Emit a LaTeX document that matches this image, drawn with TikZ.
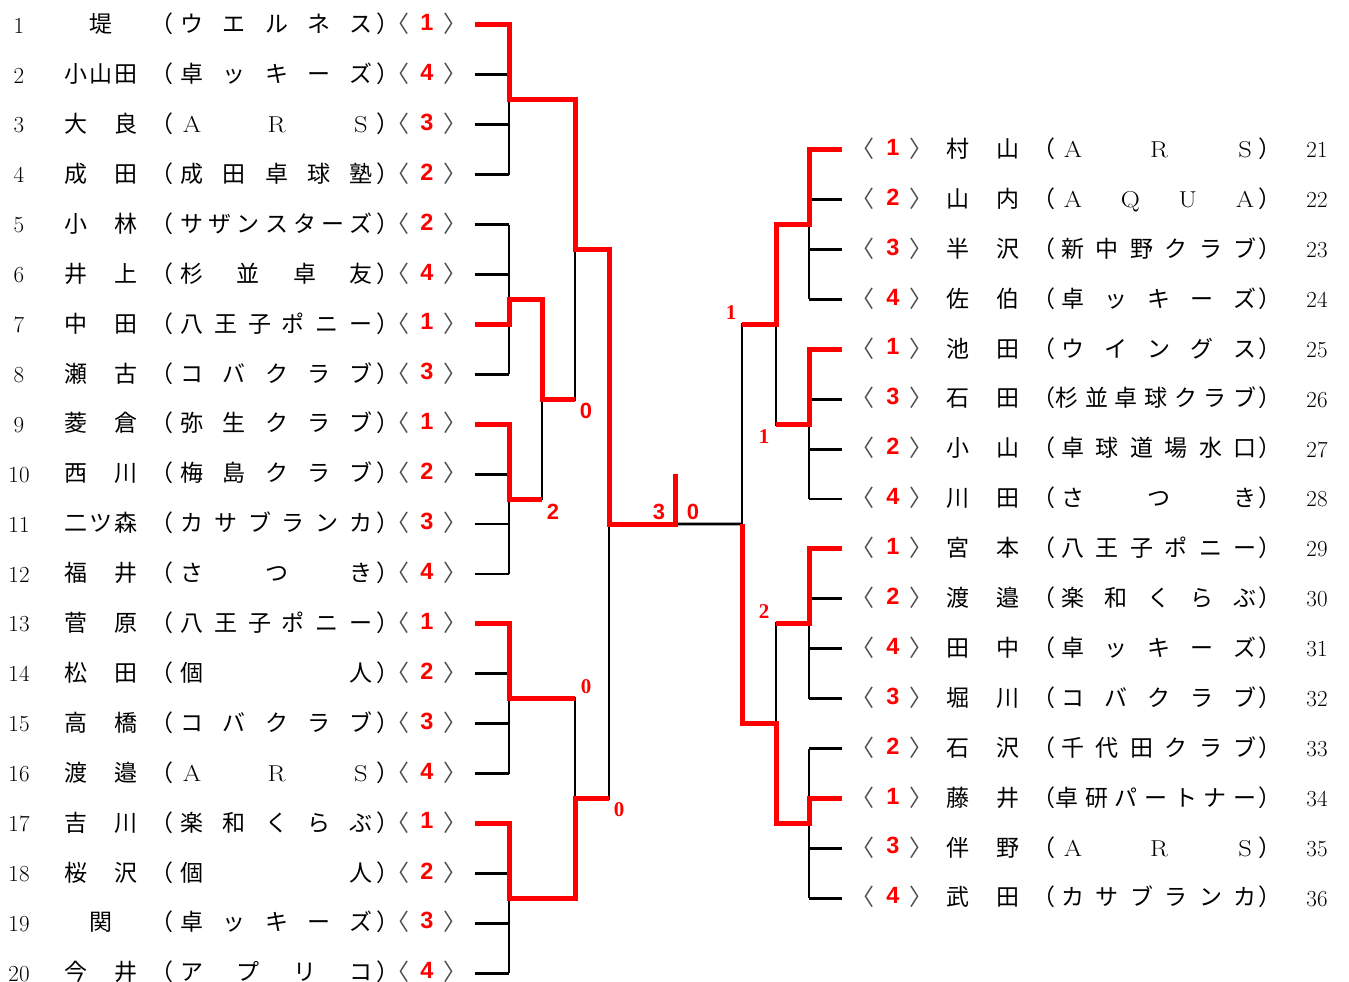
\documentclass[tikz,border=0pt]{standalone}
\usepackage{fontspec}
\usepackage{graphicx}
\usetikzlibrary{calc}
\newfontfamily\jp{Noto Sans CJK JP}
\newfontfamily\rsans{Liberation Sans}
\newfontfamily\rserif{Liberation Serif}
\newfontfamily\lmr{Latin Modern Roman}
\definecolor{bred}{RGB}{255,0,0}
\newcommand\lt[1]{{\lmr\fontsize{23}{23}\selectfont\scalebox{1.15}[1]{#1}}}
\newcommand\distr[5]{%
  \foreach \c [count=\n] in {#4} {\xdef\dcount{\n}}%
  \foreach \c [count=\i from 0] in {#4} {%
    \pgfmathsetmacro\xx{#2+(#3-#2)*\i/max(\dcount-1,1)}%
    \node[jp] (#5-\i) at (\xx,#1) {\c};
  }%
}
\newcommand\Lrow[6]{%
  \pgfmathsetmacro\yy{25+(#1-1)*49.9}%
  \node[num] (n#1) at (19,\yy+0.5) {#1};
  \distr{\yy-1}{#3}{#4}{#2}{nm#1}
  \node[jp] (lp#1) at (167-5.5,\yy-1) {（};
  \distr{\yy-1}{192}{361}{#5}{tm#1}
  \node[jp] (rp#1) at (383+4.5,\yy-1) {）};
  \node[brk] (la#1) at (402-4,\yy-1) {〈};
  \node[seed] (s#1) at (427,\yy-2.5) {#6};
  \node[brk] (ra#1) at (451+4,\yy-1) {〉};
  \coordinate (L#1) at (475,\yy);
  \coordinate (La#1) at (509,\yy);
}
\newcommand\Rrow[5]{%
  \pgfmathsetmacro\yy{25+(#1-18.5)*49.9}%
  \node[brk] (la#1) at (867-4,\yy-1) {〈};
  \node[seed] (s#1) at (893,\yy-2.5) {#2};
  \node[brk] (ra#1) at (917+4,\yy-1) {〉};
  \distr{\yy-1}{958}{1008}{#3}{nm#1}
  \node[jp] (lp#1) at (1049-5.5,\yy-1) {（};
  \distr{\yy-1}{#5}{1245}{#4}{tm#1}
  \node[jp] (rp#1) at (1265+4.5,\yy-1) {）};
  \node[num] (n#1) at (1317,\yy+0.5) {#1};
  \coordinate (R#1) at (842,\yy);
  \coordinate (Ra#1) at (809,\yy);
}
\begin{document}
\begin{tikzpicture}[x=1pt,y=-1pt,
  jp/.style={font=\jp\fontsize{23}{23}\selectfont, inner sep=0pt, text height=20.2pt, text depth=2.8pt, anchor=center},
  brk/.style={jp, text=black!70},
  num/.style={font=\lmr\fontsize{23}{23}\selectfont, inner sep=0pt, anchor=center},
  seed/.style={font=\rsans\bfseries\fontsize{23.5}{23.5}\selectfont, text=bred, inner sep=0pt, anchor=center},
  score/.style={font=\rsans\bfseries\fontsize{22}{22}\selectfont, text=bred, inner sep=0pt, anchor=center},
  scoreser/.style={font=\rserif\bfseries\fontsize{21}{21}\selectfont, text=bred, inner sep=0pt, anchor=center},
  bl/.style={line width=2.8pt, black},
  rd/.style={line width=5pt, bred, line join=miter},
]
\fill[white] (0,0) rectangle (1349,982);
\useasboundingbox (0,0) rectangle (1349,982);

\Lrow{1}{堤}{101}{101}{ウ,エ,ル,ネ,ス}{1}
\Lrow{2}{小,山,田}{76}{126}{卓,ッ,キ,ー,ズ}{4}
\Lrow{3}{大,良}{76}{126}{\lt{A},\lt{R},\lt{S}}{3}
\Lrow{4}{成,田}{76}{126}{成,田,卓,球,塾}{2}
\Lrow{5}{小,林}{76}{126}{サ,ザ,ン,ス,タ,ー,ズ}{2}
\Lrow{6}{井,上}{76}{126}{杉,並,卓,友}{4}
\Lrow{7}{中,田}{76}{126}{八,王,子,ポ,ニ,ー}{1}
\Lrow{8}{瀬,古}{76}{126}{コ,バ,ク,ラ,ブ}{3}
\Lrow{9}{菱,倉}{76}{126}{弥,生,ク,ラ,ブ}{1}
\Lrow{10}{西,川}{76}{126}{梅,島,ク,ラ,ブ}{2}
\Lrow{11}{二,ツ,森}{76}{126}{カ,サ,ブ,ラ,ン,カ}{3}
\Lrow{12}{福,井}{76}{126}{さ,つ,き}{4}
\Lrow{13}{菅,原}{76}{126}{八,王,子,ポ,ニ,ー}{1}
\Lrow{14}{松,田}{76}{126}{個,人}{2}
\Lrow{15}{高,橋}{76}{126}{コ,バ,ク,ラ,ブ}{3}
\Lrow{16}{渡,邉}{76}{126}{\lt{A},\lt{R},\lt{S}}{4}
\Lrow{17}{吉,川}{76}{126}{楽,和,く,ら,ぶ}{1}
\Lrow{18}{桜,沢}{76}{126}{個,人}{2}
\Lrow{19}{関}{101}{101}{卓,ッ,キ,ー,ズ}{3}
\Lrow{20}{今,井}{76}{126}{ア,プ,リ,コ}{4}

\Rrow{21}{1}{村,山}{\lt{A},\lt{R},\lt{S}}{1073}
\Rrow{22}{2}{山,内}{\lt{A},\lt{Q},\lt{U},\lt{A}}{1073}
\Rrow{23}{3}{半,沢}{新,中,野,ク,ラ,ブ}{1073}
\Rrow{24}{4}{佐,伯}{卓,ッ,キ,ー,ズ}{1073}
\Rrow{25}{1}{池,田}{ウ,イ,ン,グ,ス}{1073}
\Rrow{26}{3}{石,田}{杉,並,卓,球,ク,ラ,ブ}{1067}
\Rrow{27}{2}{小,山}{卓,球,道,場,水,口}{1073}
\Rrow{28}{4}{川,田}{さ,つ,き}{1073}
\Rrow{29}{1}{宮,本}{八,王,子,ポ,ニ,ー}{1073}
\Rrow{30}{2}{渡,邉}{楽,和,く,ら,ぶ}{1073}
\Rrow{31}{4}{田,中}{卓,ッ,キ,ー,ズ}{1073}
\Rrow{32}{3}{堀,川}{コ,バ,ク,ラ,ブ}{1073}
\Rrow{33}{2}{石,沢}{千,代,田,ク,ラ,ブ}{1073}
\Rrow{34}{1}{藤,井}{卓,研,パ,ー,ト,ナ,ー}{1067}
\Rrow{35}{3}{伴,野}{\lt{A},\lt{R},\lt{S}}{1073}
\Rrow{36}{4}{武,田}{カ,サ,ブ,ラ,ン,カ}{1073}

% junction coordinates (left)
\coordinate (GA) at ($(La1)!0.5!(La4)$);
\coordinate (GB) at ($(La5)!0.5!(La8)$);
\coordinate (GC) at ($(La9)!0.5!(La12)$);
\coordinate (GD) at ($(La13)!0.5!(La16)$);
\coordinate (GE) at ($(La17)!0.5!(La20)$);
\coordinate (GBC) at ($(GB)!0.5!(GC)+(33,0)$);
\coordinate (GABCt) at ($(GA)!0.5!(GBC)$);
\coordinate (GABC) at (575,0 |- GABCt);
\coordinate (GDE) at ($(GD)!0.5!(GE)+(66,0)$);
\coordinate (GL) at ($(GABC)!0.5!(GDE)+(34,0)$);
\coordinate (CTb) at (675,0 |- GL);
\coordinate (CT) at (675,474);
% junction coordinates (right)
\coordinate (HF) at ($(Ra21)!0.5!(Ra24)$);
\coordinate (HG) at ($(Ra25)!0.5!(Ra28)$);
\coordinate (HH) at ($(Ra29)!0.5!(Ra32)$);
\coordinate (HI) at ($(Ra33)!0.5!(Ra36)$);
\coordinate (HFG) at ($(HF)!0.5!(HG)+(-33,0)$);
\coordinate (HHI) at ($(HH)!0.5!(HI)+(-33,0)$);
\coordinate (GR) at ($(HFG)!0.5!(HHI)+(-34,0)$);

% black bracket
\foreach \i in {1,...,20} {\draw[bl] (L\i) -- (La\i);}
\foreach \i in {21,...,36} {\draw[bl] (R\i) -- (Ra\i);}
\draw[bl] (La1) -- (La4) (La5) -- (La8) (La9) -- (La12) (La13) -- (La16) (La17) -- (La20);
\draw[bl] (Ra21) -- (Ra24) (Ra25) -- (Ra28) (Ra29) -- (Ra32) (Ra33) -- (Ra36);
\draw[bl] (GB) -| (GBC) (GC) -| (GBC);
\draw[bl] (GA) -| (GABC) (GBC) -| (GABC);
\draw[bl] (GD) -| (GDE) (GE) -| (GDE);
\draw[bl] (GABC) -| (GL) (GDE) -| (GL);
\draw[bl] (GL) -- (GR);
\draw[bl] (HF) -| (HFG) (HG) -| (HFG);
\draw[bl] (HH) -| (HHI) (HI) -| (HHI);
\draw[bl] (HFG) -| (GR) (HHI) -| (GR);

% red winners
\draw[rd] (L1) -- (La1) -- (GA) -| (GABC) -| (GL) -- (CTb) -- (CT);
\draw[rd] (L7) -- (La7) -- (GB) -| (GBC) -- (GBC -| GABC);
\draw[rd] (L9) -- (La9) -- (GC) -- (GC -| GBC);
\draw[rd] (L13) -- (La13) -- (GD) -- (GD -| GDE);
\draw[rd] (L17) -- (La17) -- (GE) -| (GDE) -- (GDE -| GL);
\draw[rd] (R21) -- (Ra21) -- (HF) -| (HFG) -- (HFG -| GR);
\draw[rd] (R25) -- (Ra25) -- (HG) -- (HG -| HFG);
\draw[rd] (R29) -- (Ra29) -- (HH) -- (HH -| HHI);
\draw[rd] (R34) -- (Ra34) -- (HI) -| (HHI) -| (GR);

% scores
\node[score] (sc1) at (586,411) {0};
\node[score] (sc2) at (553,512) {2};
\node[score] (sc3) at (659,512) {3};
\node[score] (sc4) at (693,512) {0};
\node[scoreser] (sc5) at (586,687) {0};
\node[scoreser] (sc6) at (619,810) {0};
\node[scoreser] (sc7) at (731,313) {1};
\node[scoreser] (sc8) at (764,437) {1};
\node[scoreser] (sc9) at (764,612) {2};
\end{tikzpicture}
\end{document}
